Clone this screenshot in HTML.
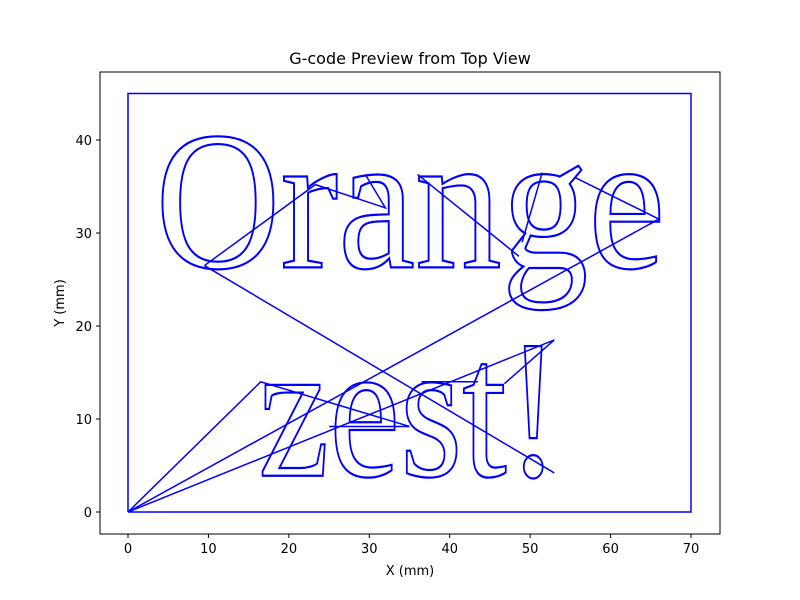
<!DOCTYPE html>
<html><head><meta charset="utf-8"><style>
body{margin:0;background:#fff;}
svg{display:block;font-family:"DejaVu Sans","Liberation Sans",sans-serif;}
</style></head><body>
<svg id="chart" width="800" height="600">
<rect x="100" y="72" width="620" height="462" fill="#fff" stroke="#000" stroke-width="1"/>
<text x="410" y="64" text-anchor="middle" font-size="16">G-code Preview from Top View</text>
<text x="410" y="575" text-anchor="middle" font-size="13">X (mm)</text>
<text x="64" y="303" text-anchor="middle" font-size="13" transform="rotate(-90 64 303)">Y (mm)</text>
<g id="marks"></g>
</svg>
<script>
const xTicks=[0,10,20,30,40,50,60,70];
const yTicks=[0,10,20,30,40];
const border=[[0,0],[70,0],[70,45],[0,45],[0,0]];
const travelA=[[0,0],[16.5,14],[35,9.2],[25,9.2]];
const travelB=[[0,0],[66,31.5]];
const travelC=[[0,0],[53,18.5],[46.8,13.8]];
const travelD=[[9.5,26.5],[23.3,35.2],[32,32.7],[29.5,36.3]];
const travelE=[[9.5,26.5],[53,4.2]];
const travelF=[[36,36.3],[48.6,27.5]];
const travelG=[[51.5,36.5],[49,29]];
const travelH=[[55.5,36],[66,31.5]];
const travelI=[[36.5,14],[43.5,14]];
const words=["Orange","zest!"];
const wordX=[3.4,16.2];
const wordY=[26.3,3.9];
const wordW=[63.4,37.5];
const X=v=>128+v*(691-128)/70;
const Y=v=>512-v*(512-140)/40;
const NS="http://www.w3.org/2000/svg";
const svg=document.getElementById('chart');
const g=document.getElementById('marks');
function mk(t,a,p){const e=document.createElementNS(NS,t);for(const k in a)e.setAttribute(k,a[k]);(p||g).appendChild(e);return e;}
xTicks.forEach(v=>{
 const l=mk('line',{x1:X(v),x2:X(v),y1:534,y2:538,stroke:'#000'});
 
 
 const t=mk('text',{x:X(v),y:553,'text-anchor':'middle','font-size':13});
 t.textContent=v;
 
 
});
yTicks.forEach(v=>{
 const l=mk('line',{x1:96,x2:100,y1:Y(v),y2:Y(v),stroke:'#000'});
 
 
 const t=mk('text',{x:92,y:Y(v)+5,'text-anchor':'end','font-size':13});
 t.textContent=v;
 
 
});
[border,travelA,travelB,travelC,travelD,travelE,travelF,travelG,travelH,travelI].forEach(pts=>{
 const p=mk('polyline',{points:pts.map(q=>X(q[0])+','+Y(q[1])).join(' '),fill:'none',stroke:'#0000ff','stroke-width':1.5});
 
 
});
words.forEach((w,i)=>{
 const t=mk('text',{x:X(wordX[i]),y:Y(wordY[i]),'font-size':198,'font-family':'"Liberation Serif",serif',fill:'none',stroke:'#0000ff','stroke-width':2.2,textLength:X(wordW[i])-X(0),lengthAdjust:'spacingAndGlyphs'});
 t.textContent=w;
 
 
});
</script>
</body></html>
